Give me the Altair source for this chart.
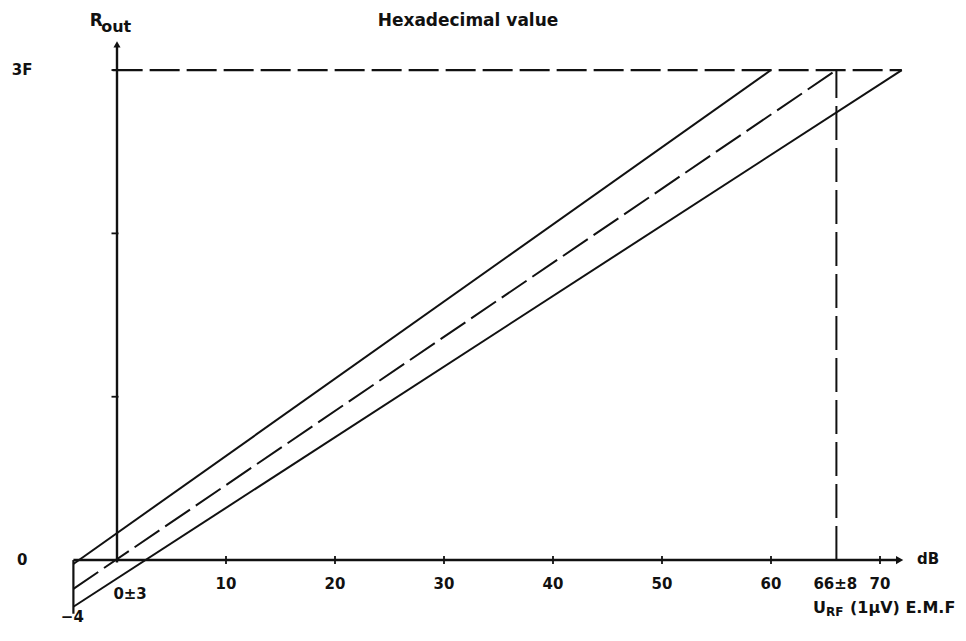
import altair as alt
import pandas as pd

# ---- data ----
X_MIN, X_MAX = -6, 75
Y_MIN, Y_MAX = -8.5, 70

upper_x = [-4, 60]
upper_y = [-0.5, 63]
lower_x = [-4, 72]
lower_y = [-6.0, 63]
mid_x = [-4, 66]
mid_y = [-3.7, 63]

full_scale = 63        # 0x3F
nominal_db = 66
x_ticks = [10, 20, 30, 40, 50, 60, 70]
x_tick_labels = ["10", "20", "30", "40", "50", "60", "70"]
y_ticks = [21, 42, 63]

INK = "#111111"
FONT = "DejaVu Sans"

xs = alt.Scale(domain=[X_MIN, X_MAX], nice=False, zero=False)
ys = alt.Scale(domain=[Y_MIN, Y_MAX], nice=False, zero=False)


def X(f="x"):
    return alt.X(f"{f}:Q", scale=xs, axis=None)


def Y(f="y"):
    return alt.Y(f"{f}:Q", scale=ys, axis=None)


solid = pd.DataFrame({
    "x": upper_x + lower_x,
    "y": upper_y + lower_y,
    "s": ["upper"] * 2 + ["lower"] * 2,
})
mid = pd.DataFrame({"x": mid_x, "y": mid_y})

solid_layer = alt.Chart(solid).mark_line(color=INK, strokeWidth=2).encode(
    x=X(), y=Y(), detail="s:N")
mid_layer = alt.Chart(mid).mark_line(color=INK, strokeWidth=2, strokeDash=[30, 7]).encode(
    x=X(), y=Y())

# dashed guides: 3F level and nominal 66 dB
hguide = pd.DataFrame({"x": [-0.4], "x2": [72], "y": [full_scale]})
vguide = pd.DataFrame({"x": [nominal_db], "y": [0], "y2": [full_scale]})
hguide_layer = alt.Chart(hguide).mark_rule(color=INK, strokeWidth=2.2, strokeDash=[30, 7]).encode(
    x=X(), x2="x2:Q", y=Y())
vguide_layer = alt.Chart(vguide).mark_rule(color=INK, strokeWidth=2, strokeDash=[34, 8]).encode(
    x=X(), y=Y(), y2="y2:Q")

# axes lines
xaxis = pd.DataFrame({"x": [-4], "x2": [71.5], "y": [0]})
yaxis = pd.DataFrame({"x": [0], "y": [-0.3], "y2": [66]})
stub = pd.DataFrame({"x": [-4], "y": [0], "y2": [-6.9]})
xaxis_layer = alt.Chart(xaxis).mark_rule(color=INK, strokeWidth=2.4).encode(
    x=X(), x2="x2:Q", y=Y())
yaxis_layer = alt.Chart(yaxis).mark_rule(color=INK, strokeWidth=2.4).encode(
    x=X(), y=Y(), y2="y2:Q")
stub_layer = alt.Chart(stub).mark_rule(color=INK, strokeWidth=2.2).encode(
    x=X(), y=Y(), y2="y2:Q")

# arrow heads
arr_r = pd.DataFrame({"x": [71.8], "y": [0]})
arr_u = pd.DataFrame({"x": [0], "y": [66.3]})
arr_r_layer = alt.Chart(arr_r).mark_point(shape="triangle-right", filled=True, color=INK,
                                          size=70, opacity=1).encode(x=X(), y=Y())
arr_u_layer = alt.Chart(arr_u).mark_point(shape="triangle-up", filled=True, color=INK,
                                          size=50, opacity=1).encode(x=X(), y=Y())

# tick marks
xt = pd.DataFrame({"x": x_ticks, "y": [0] * len(x_ticks)})
yt = pd.DataFrame({"x": [0] * len(y_ticks), "y": y_ticks})
xt_layer = alt.Chart(xt).mark_tick(orient="vertical", size=8, thickness=1.8, color=INK,
                                   opacity=1).encode(x=X(), y=Y())
yt_layer = alt.Chart(yt).mark_tick(orient="horizontal", size=7, thickness=1.8, color=INK,
                                   opacity=1, xOffset=-2).encode(x=X(), y=Y())

# tick labels
tl = pd.DataFrame({
    "x": x_ticks[:6] + [70, 65.9],
    "y": [-3.1] * 8,
    "t": x_tick_labels[:6] + ["70", "66±8"],
})
tl_layer = alt.Chart(tl).mark_text(font=FONT, fontWeight="bold", fontSize=15, color=INK,
                                   align="center", baseline="middle").encode(
    x=X(), y=Y(), text="t:N")

# other centred labels
cl = pd.DataFrame({
    "x": [32.2, -8.7, -8.7, 1.2, -1.9],
    "y": [69.3, 63.0, 0.0, -4.4, 69.3],
    "t": ["Hexadecimal value", "3F", "0", "0±3", "R"],
    "fs": [17, 15, 15, 15, 17],
})
cl_layer = alt.Chart(cl).mark_text(font=FONT, fontWeight="bold", color=INK,
                                   align="center", baseline="middle").encode(
    x=X(), y=Y(), text="t:N", size=alt.Size("fs:Q", scale=None))

# label under the left stub, kept inside the page
bl = pd.DataFrame({"x": [-4.1], "y": [Y_MIN + 0.1], "t": ["−4"]})
bl_layer = alt.Chart(bl).mark_text(font=FONT, fontWeight="bold", fontSize=15, color=INK,
                                   align="center", baseline="bottom").encode(
    x=X(), y=Y(), text="t:N")

# left-aligned labels
ll = pd.DataFrame({
    "x": [-1.45, 73.4, 63.85, 65.05, 67.25],
    "y": [68.5, 0.1, -6.2, -6.7, -6.2],
    "t": ["out", "dB", "U", "RF", "(1µV) E.M.F"],
    "fs": [16, 15, 16, 12, 16],
})
ll_layer = alt.Chart(ll).mark_text(font=FONT, fontWeight="bold", color=INK,
                                   align="left", baseline="middle").encode(
    x=X(), y=Y(), text="t:N", size=alt.Size("fs:Q", scale=None))

chart = alt.layer(
    hguide_layer, vguide_layer, solid_layer, mid_layer,
    xaxis_layer, yaxis_layer, stub_layer, arr_r_layer, arr_u_layer,
    xt_layer, yt_layer, tl_layer, cl_layer, bl_layer, ll_layer,
).properties(
    width=(X_MAX - X_MIN) * 10.9,
    height=(Y_MAX - Y_MIN) * 7.778,
    autosize=alt.AutoSizeParams(type="none"),
    padding={"left": 43.6, "top": 7.6, "right": 23.0, "bottom": 0},
    background="white",
).configure_view(stroke=None)

chart.save("out.html", embed_options={"renderer": "svg", "actions": False})
